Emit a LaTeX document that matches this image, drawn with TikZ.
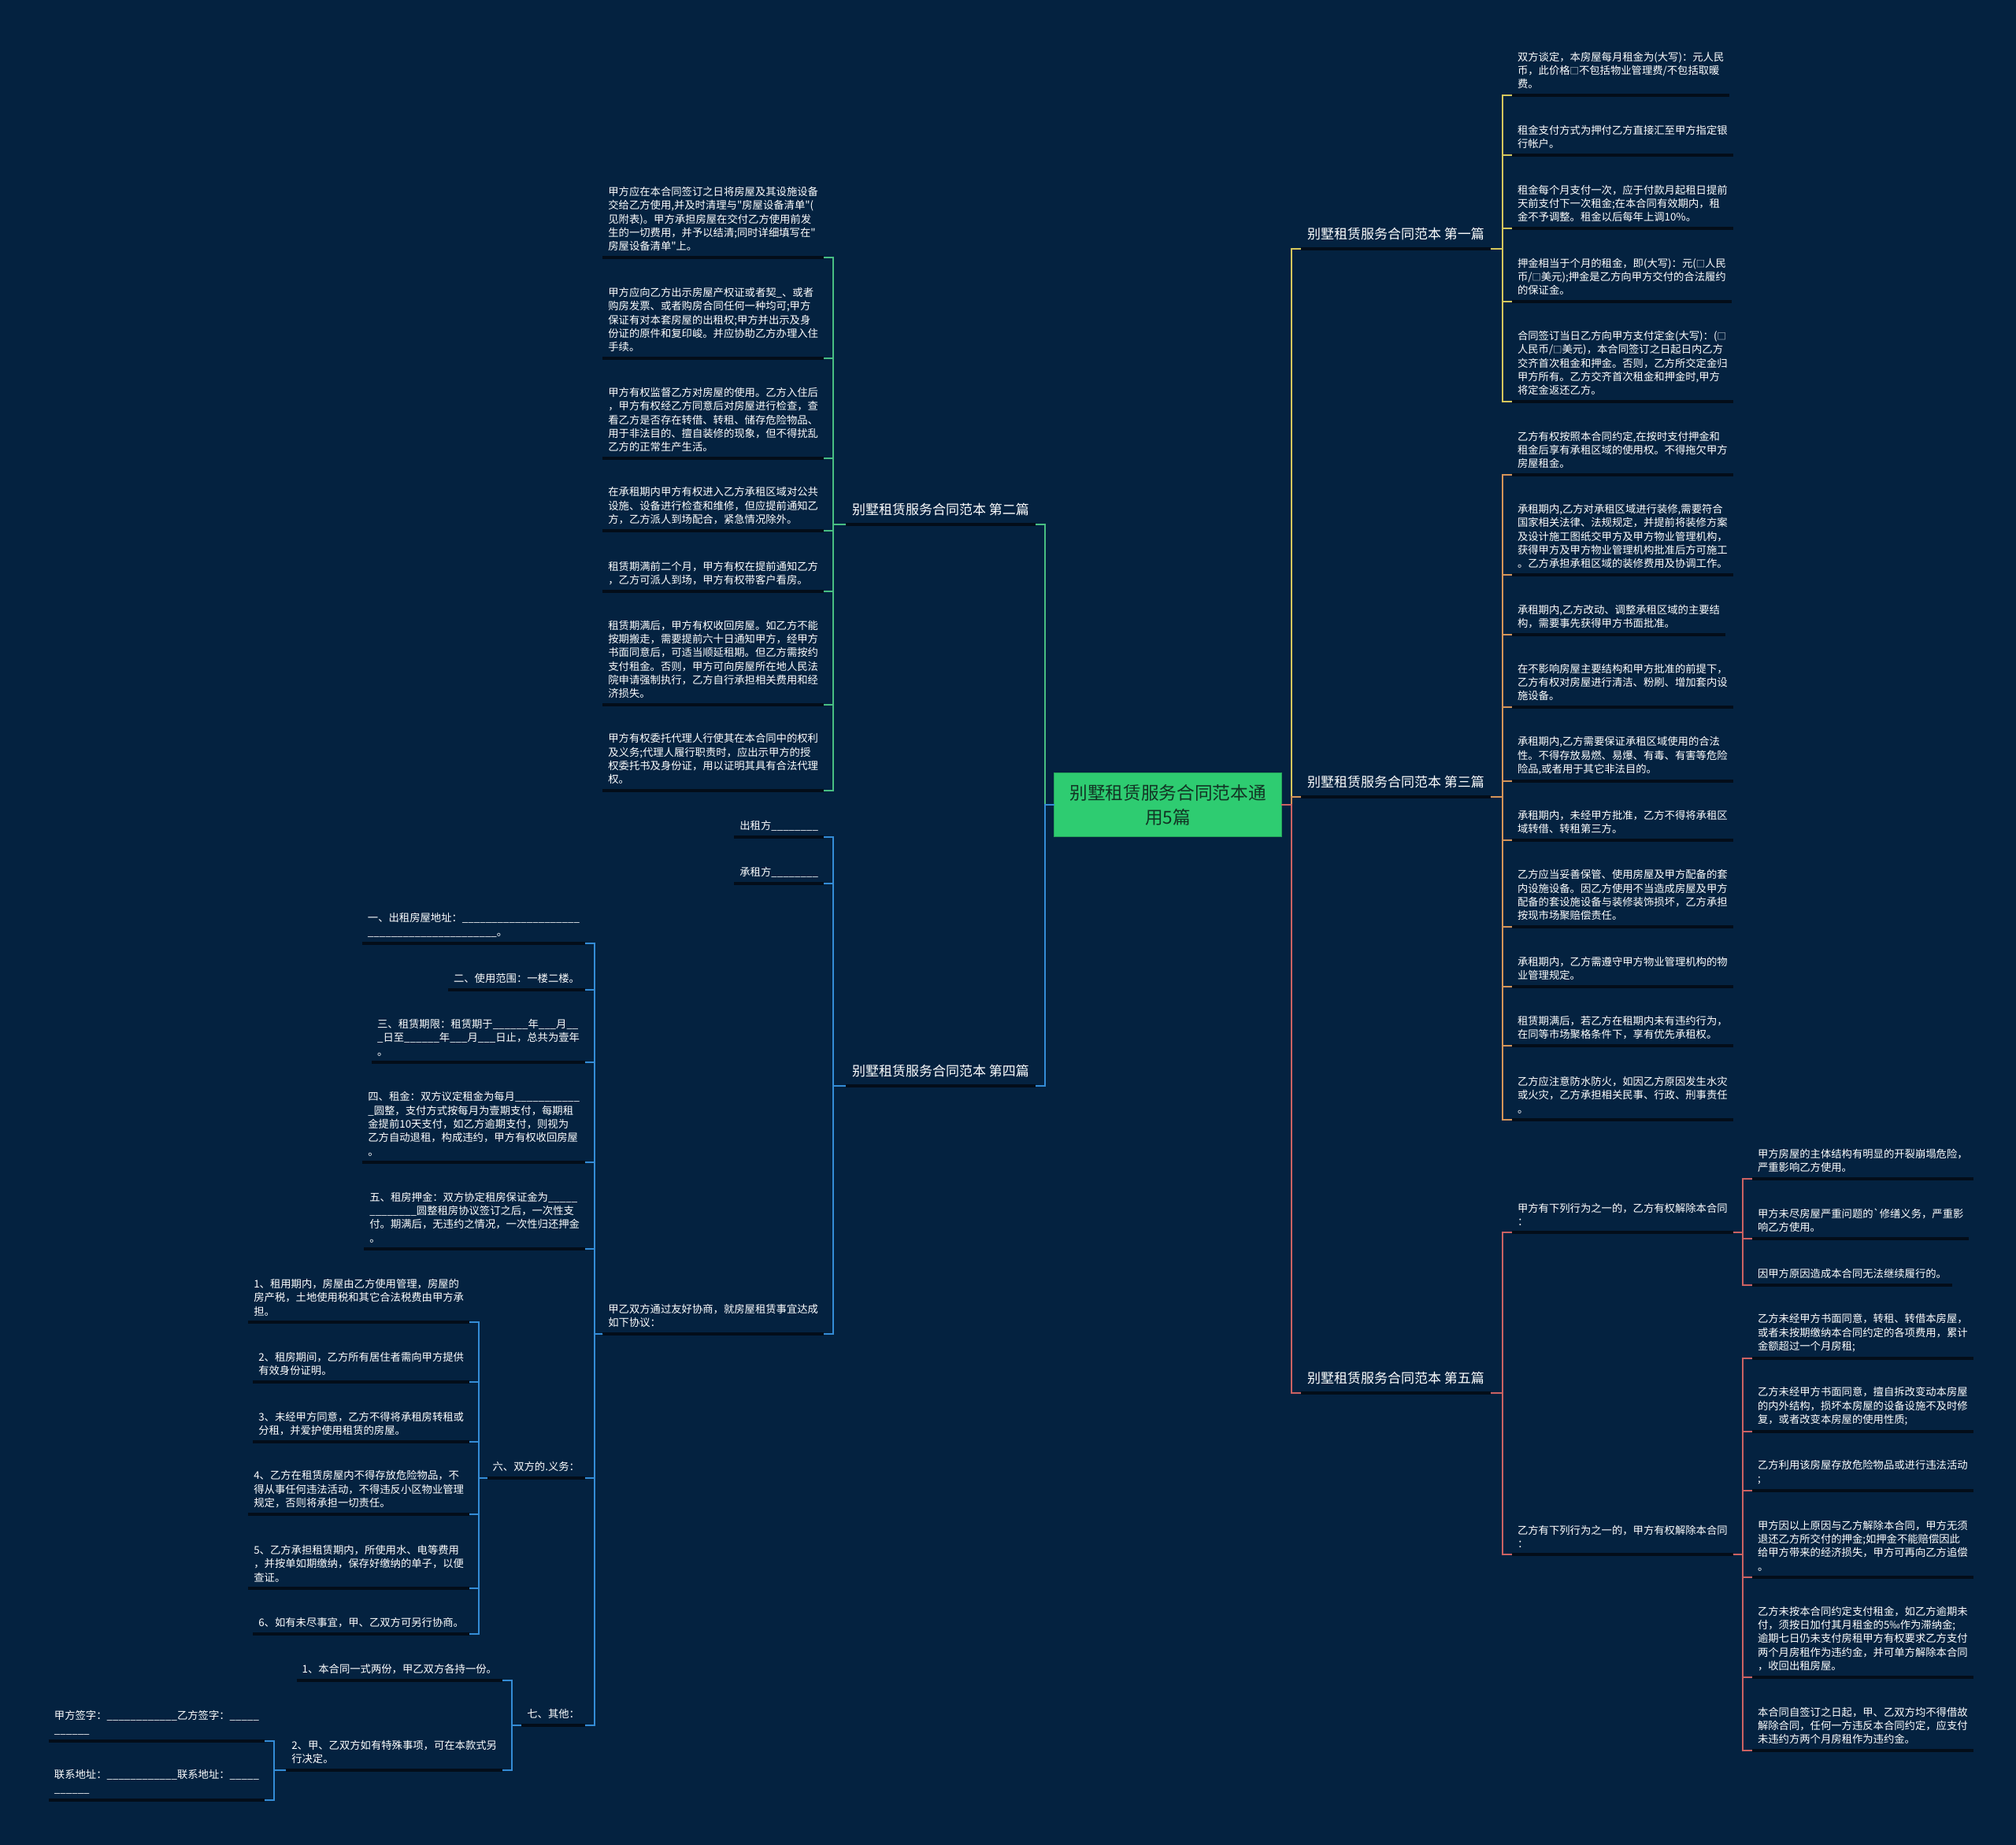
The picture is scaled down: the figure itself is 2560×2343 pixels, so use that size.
\documentclass[tikz,border=0pt]{standalone}
\usepackage{fontspec}
\newfontfamily\cn{Noto Sans CJK SC}
\usetikzlibrary{positioning}

\definecolor{bg}{RGB}{4,34,64}
\definecolor{ulc}{RGB}{3,13,25}
\definecolor{rootg}{RGB}{46,204,113}
\definecolor{roottxt}{RGB}{18,52,36}
\definecolor{yel}{RGB}{214,198,92}
\definecolor{org}{RGB}{214,148,88}
\definecolor{sal}{RGB}{204,98,98}
\definecolor{grn}{RGB}{72,190,130}
\definecolor{blu}{RGB}{52,140,214}

\newcommand\sq{{\fontsize{3.4pt}{3.4pt}\selectfont □}}
\newcommand\blanks[1]{\foreach\nn in {1,...,#1}{\_}}

\begin{document}
\begin{tikzpicture}[
  x=0.3pt, y=-0.3pt,
  every node/.style={outer sep=0pt},
  leaf/.style={anchor=south west, align=left, text=white, inner xsep=2.1pt, inner ysep=2.4pt,
    font=\cn\fontsize{4pt}{5.2pt}\selectfont},
  lleaf/.style={leaf, anchor=south east},
  branch/.style={anchor=south west, text=white, inner xsep=2.4pt, inner ysep=3.3pt,
    font=\cn\fontsize{5.1pt}{6pt}\selectfont},
  lbranch/.style={branch, anchor=south east},
  root/.style={fill=rootg, draw=rootg!80!black, text=roottxt, align=center, text width=80pt,
    minimum width=86.1pt, minimum height=24.3pt, font=\cn\fontsize{6.8pt}{9.3pt}\selectfont},
  uline/.style={draw=ulc, line width=1.3pt},
  link/.style={line width=0.6pt}
  ]
  \fill[bg] (0,0) rectangle (2560,2343);
  \useasboundingbox (0,0) rectangle (2560,2343);

  % centre and the five branches
  \node[root] (root) at (1483,1022) {别墅租赁服务合同范本通\\用5篇};
  \node[branch] (b1) at (1652,316) {别墅租赁服务合同范本 第一篇};
  \node[branch] (b3) at (1652,1012) {别墅租赁服务合同范本 第三篇};
  \node[branch] (b5) at (1652,1769) {别墅租赁服务合同范本 第五篇};
  \node[lbranch] (b2) at (1315,666) {别墅租赁服务合同范本 第二篇};
  \node[lbranch] (b4) at (1315,1379) {别墅租赁服务合同范本 第四篇};

  % first
  \node[leaf] (r1) at (1920,121) {双方谈定，本房屋每月租金为(大写)：元人民\\币，此价格\sq 不包括物业管理费/不包括取暖\\费。};
  \node[leaf] (r2) at (1920,197) {租金支付方式为押付乙方直接汇至甲方指定银\\行帐户。};
  \node[leaf] (r3) at (1920,290) {租金每个月支付一次，应于付款月起租日提前\\天前支付下一次租金;在本合同有效期内，租\\金不予调整。租金以后每年上调10\%。};
  \node[leaf] (r4) at (1920,383) {押金相当于个月的租金，即(大写)：元(\sq 人民\\币/\sq 美元);押金是乙方向甲方交付的合法履约\\的保证金。};
  \node[leaf] (r5) at (1920,510) {合同签订当日乙方向甲方支付定金(大写)：(\sq\\人民币/\sq 美元)，本合同签订之日起日内乙方\\交齐首次租金和押金。否则，乙方所交定金归\\甲方所有。乙方交齐首次租金和押金时,甲方\\将定金返还乙方。};

  % third
  \node[leaf] (t1) at (1920,603) {乙方有权按照本合同约定,在按时支付押金和\\租金后享有承租区域的使用权。不得拖欠甲方\\房屋租金。};
  \node[leaf] (t2) at (1920,730) {承租期内,乙方对承租区域进行装修,需要符合\\国家相关法律、法规规定，并提前将装修方案\\及设计施工图纸交甲方及甲方物业管理机构，\\获得甲方及甲方物业管理机构批准后方可施工\\。乙方承担承租区域的装修费用及协调工作。};
  \node[leaf] (t3) at (1920,806) {承租期内,乙方改动、调整承租区域的主要结\\构，需要事先获得甲方书面批准。};
  \node[leaf] (t4) at (1920,898) {在不影响房屋主要结构和甲方批准的前提下，\\乙方有权对房屋进行清洁、粉刷、增加套内设\\施设备。};
  \node[leaf] (t5) at (1920,992) {承租期内,乙方需要保证承租区域使用的合法\\性。不得存放易燃、易爆、有毒、有害等危险\\险品,或者用于其它非法目的。};
  \node[leaf] (t6) at (1920,1067) {承租期内，未经甲方批准，乙方不得将承租区\\域转借、转租第三方。};
  \node[leaf] (t7) at (1920,1177) {乙方应当妥善保管、使用房屋及甲方配备的套\\内设施设备。因乙方使用不当造成房屋及甲方\\配备的套设施设备与装修装饰损坏，乙方承担\\按现市场聚赔偿责任。};
  \node[leaf] (t8) at (1920,1253) {承租期内，乙方需遵守甲方物业管理机构的物\\业管理规定。};
  \node[leaf] (t9) at (1920,1328) {租赁期满后，若乙方在租期内未有违约行为，\\在同等市场聚格条件下，享有优先承租权。};
  \node[leaf] (t10) at (1920,1422) {乙方应注意防水防火，如因乙方原因发生水灾\\或火灾，乙方承担相关民事、行政、刑事责任\\。};

  % fifth
  \node[leaf] (fa) at (1920,1565) {甲方有下列行为之一的，乙方有权解除本合同\\：};
  \node[leaf] (fb) at (1920,1974) {乙方有下列行为之一的，甲方有权解除本合同\\：};
  \node[leaf] (fa1) at (2225,1497) {甲方房屋的主体结构有明显的开裂崩塌危险，\\严重影响乙方使用。};
  \node[leaf] (fa2) at (2225,1573) {甲方未尽房屋严重问题的`修缮义务，严重影\\响乙方使用。};
  \node[leaf] (fa3) at (2225,1632) {因甲方原因造成本合同无法继续履行的。};
  \node[leaf] (fb1) at (2225,1725) {乙方未经甲方书面同意，转租、转借本房屋，\\或者未按期缴纳本合同约定的各项费用，累计\\金额超过一个月房租;};
  \node[leaf] (fb2) at (2225,1818) {乙方未经甲方书面同意，擅自拆改变动本房屋\\的内外结构，损坏本房屋的设备设施不及时修\\复，或者改变本房屋的使用性质;};
  \node[leaf] (fb3) at (2225,1893) {乙方利用该房屋存放危险物品或进行违法活动\\;};
  \node[leaf] (fb4) at (2225,2003) {甲方因以上原因与乙方解除本合同，甲方无须\\退还乙方所交付的押金;如押金不能赔偿因此\\给甲方带来的经济损失，甲方可再向乙方追偿\\。};
  \node[leaf] (fb5) at (2225,2130) {乙方未按本合同约定支付租金，如乙方逾期未\\付，须按日加付其月租金的5‰作为滞纳金;\\逾期七日仍未支付房租甲方有权要求乙方支付\\两个月房租作为违约金，并可单方解除本合同\\，收回出租房屋。};
  \node[leaf] (fb6) at (2225,2223) {本合同自签订之日起，甲、乙双方均不得借故\\解除合同，任何一方违反本合同约定，应支付\\未违约方两个月房租作为违约金。};

  % second
  \node[lleaf] (s1) at (1046,327) {甲方应在本合同签订之日将房屋及其设施设备\\交给乙方使用,并及时清理与"房屋设备清单"(\\见附表)。甲方承担房屋在交付乙方使用前发\\生的一切费用，并予以结清;同时详细填写在"\\房屋设备清单"上。};
  \node[lleaf] (s2) at (1046,455) {甲方应向乙方出示房屋产权证或者契\_、或者\\购房发票、或者购房合同任何一种均可;甲方\\保证有对本套房屋的出租权;甲方并出示及身\\份证的原件和复印峻。并应协助乙方办理入住\\手续。};
  \node[lleaf] (s3) at (1046,582) {甲方有权监督乙方对房屋的使用。乙方入住后\\，甲方有权经乙方同意后对房屋进行检查，查\\看乙方是否存在转借、转租、储存危险物品、\\用于非法目的、擅自装修的现象，但不得扰乱\\乙方的正常生产生活。};
  \node[lleaf] (s4) at (1046,674) {在承租期内甲方有权进入乙方承租区域对公共\\设施、设备进行检查和维修，但应提前通知乙\\方，乙方派人到场配合，紧急情况除外。};
  \node[lleaf] (s5) at (1046,751) {租赁期满前二个月，甲方有权在提前通知乙方\\，乙方可派人到场，甲方有权带客户看房。};
  \node[lleaf] (s6) at (1046,895) {租赁期满后，甲方有权收回房屋。如乙方不能\\按期搬走，需要提前六十日通知甲方，经甲方\\书面同意后，可适当顺延租期。但乙方需按约\\支付租金。否则，甲方可向房屋所在地人民法\\院申请强制执行，乙方自行承担相关费用和经\\济损失。};
  \node[lleaf] (s7) at (1046,1004) {甲方有权委托代理人行使其在本合同中的权利\\及义务;代理人履行职责时，应出示甲方的授\\权委托书及身份证，用以证明其具有合法代理\\权。};

  % fourth
  \node[lleaf] (m1) at (1046,1063) {出租方\blanks{8}};
  \node[lleaf] (m2) at (1046,1122) {承租方\blanks{8}};
  \node[lleaf] (m3) at (1046,1694) {甲乙双方通过友好协商，就房屋租赁事宜达成\\如下协议：};
  \node[lleaf] (c1) at (743,1198) {一、出租房屋地址：\blanks{20}\\\blanks{22}。};
  \node[lleaf] (c2) at (743,1257) {二、使用范围：一楼二楼。};
  \node[lleaf] (c3) at (743,1349) {三、租赁期限：租赁期于\blanks{6}年\blanks{3}月\blanks{2}\\\_日至\blanks{6}年\blanks{3}月\blanks{3}日止，总共为壹年\\。};
  \node[lleaf] (c4) at (743,1476) {四、租金：双方议定租金为每月\blanks{11}\\\_圆整，支付方式按每月为壹期支付，每期租\\金提前10天支付，如乙方逾期支付，则视为\\乙方自动退租，构成违约，甲方有权收回房屋\\。};
  \node[lleaf] (c5) at (743,1586) {五、租房押金：双方协定租房保证金为\blanks{5}\\\blanks{8}圆整租房协议签订之后，一次性支\\付。期满后，无违约之情况，一次性归还押金\\。};
  \node[lleaf] (c6) at (743,1877) {六、双方的.义务：};
  \node[lleaf] (c7) at (743,2191) {七、其他：};
  \node[lleaf] (d1) at (596,1679) {1、租用期内，房屋由乙方使用管理，房屋的\\房产税，土地使用税和其它合法税费由甲方承\\担。};
  \node[lleaf] (d2) at (596,1755) {2、租房期间，乙方所有居住者需向甲方提供\\有效身份证明。};
  \node[lleaf] (d3) at (596,1831) {3、未经甲方同意，乙方不得将承租房转租或\\分租，并爱护使用租赁的房屋。};
  \node[lleaf] (d4) at (596,1923) {4、乙方在租赁房屋内不得存放危险物品，不\\得从事任何违法活动，不得违反小区物业管理\\规定，否则将承担一切责任。};
  \node[lleaf] (d5) at (596,2017) {5、乙方承担租赁期内，所使用水、电等费用\\，并按单如期缴纳，保存好缴纳的单子，以便\\查证。};
  \node[lleaf] (d6) at (596,2075) {6、如有未尽事宜，甲、乙双方可另行协商。};
  \node[lleaf] (e1) at (638,2134) {1、本合同一式两份，甲乙双方各持一份。};
  \node[lleaf] (e2) at (638,2248) {2、甲、乙双方如有特殊事项，可在本款式另\\行决定。};
  \node[lleaf] (g1) at (336,2211) {甲方签字：\blanks{12}乙方签字：\blanks{5}\\\blanks{6}};
  \node[lleaf] (g2) at (336,2286) {联系地址：\blanks{12}联系地址：\blanks{5}\\\blanks{6}};

  % dark rules under the nodes
  \foreach \n in {b1,b2,b3,b4,b5,r1,r2,r3,r4,r5,t1,t2,t3,t4,t5,t6,t7,t8,t9,t10,
      fa,fb,fa1,fa2,fa3,fb1,fb2,fb3,fb4,fb5,fb6,s1,s2,s3,s4,s5,s6,s7,
      m1,m2,m3,c1,c2,c3,c4,c5,c6,c7,d1,d2,d3,d4,d5,d6,e1,e2,g1,g2}
    \draw[uline] (\n.south west) -- (\n.south east);

  % connectors, right side
  \draw[link,yel] (root.east) -| ([xshift=-3.6pt]b1.south west) -- (b1.south west);
  \draw[link,org] (root.east) -| ([xshift=-3.6pt]b3.south west) -- (b3.south west);
  \draw[link,sal] (root.east) -| ([xshift=-3.6pt]b5.south west) -- (b5.south west);
  \foreach \c in {r1,r2,r3,r4,r5}
    \draw[link,yel] (b1.south east) -| ([xshift=-3.6pt]\c.south west) -- (\c.south west);
  \foreach \c in {t1,t2,t3,t4,t5,t6,t7,t8,t9,t10}
    \draw[link,org] (b3.south east) -| ([xshift=-3.6pt]\c.south west) -- (\c.south west);
  \foreach \c in {fa,fb}
    \draw[link,sal] (b5.south east) -| ([xshift=-3.6pt]\c.south west) -- (\c.south west);
  \foreach \c in {fa1,fa2,fa3}
    \draw[link,sal] (fa.south east) -| ([xshift=-3.6pt]\c.south west) -- (\c.south west);
  \foreach \c in {fb1,fb2,fb3,fb4,fb5,fb6}
    \draw[link,sal] (fb.south east) -| ([xshift=-3.6pt]\c.south west) -- (\c.south west);

  % connectors, left side
  \draw[link,grn] (root.west) -| ([xshift=3.6pt]b2.south east) -- (b2.south east);
  \draw[link,blu] (root.west) -| ([xshift=3.6pt]b4.south east) -- (b4.south east);
  \foreach \c in {s1,s2,s3,s4,s5,s6,s7}
    \draw[link,grn] (b2.south west) -| ([xshift=3.6pt]\c.south east) -- (\c.south east);
  \foreach \c in {m1,m2,m3}
    \draw[link,blu] (b4.south west) -| ([xshift=3.6pt]\c.south east) -- (\c.south east);
  \foreach \c in {c1,c2,c3,c4,c5,c6,c7}
    \draw[link,blu] (m3.south west) -| ([xshift=3.6pt]\c.south east) -- (\c.south east);
  \foreach \c in {d1,d2,d3,d4,d5,d6}
    \draw[link,blu] (c6.south west) -| ([xshift=3.6pt]\c.south east) -- (\c.south east);
  \foreach \c in {e1,e2}
    \draw[link,blu] (c7.south west) -| ([xshift=3.6pt]\c.south east) -- (\c.south east);
  \foreach \c in {g1,g2}
    \draw[link,blu] (e2.south west) -| ([xshift=3.6pt]\c.south east) -- (\c.south east);
\end{tikzpicture}
\end{document}
